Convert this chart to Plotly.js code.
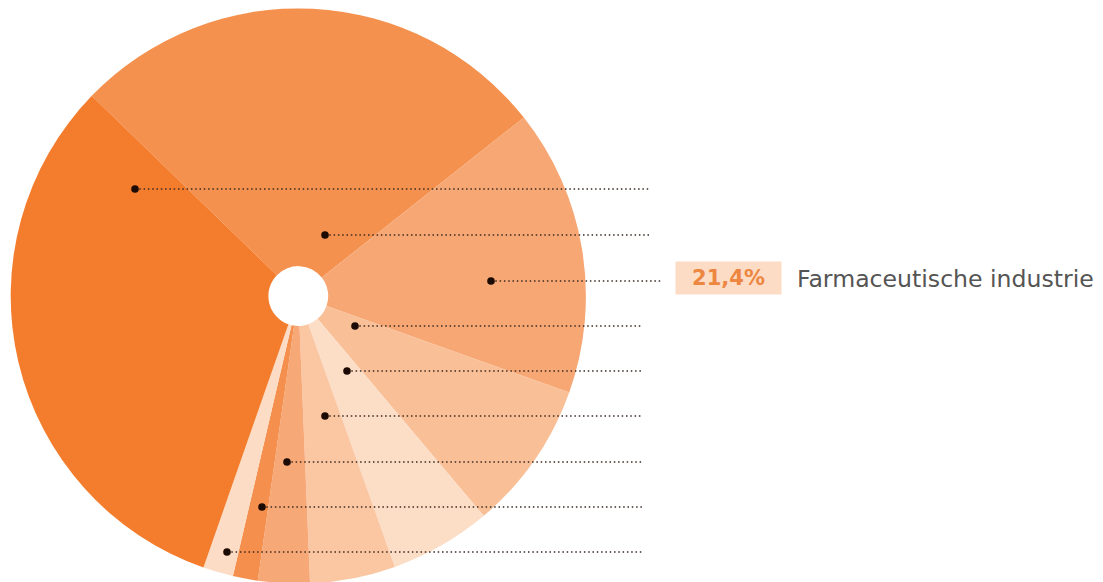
<!DOCTYPE html>
<html>
<head>
<meta charset="utf-8">
<script src="https://cdn.plot.ly/plotly-3.0.1.min.js"></script>
<style>
  html, body { margin: 0; padding: 0; background: #ffffff; overflow: hidden; }
  #chart { width: 1103px; height: 592px; }
</style>
</head>
<body>
<div id="chart"></div>
<script>
// ---- data (shares, clockwise from the top slice) ----
var sectors = ["Sector A", "Farmaceutische industrie", "Sector C", "Sector D", "Sector E",
               "Sector F", "Sector G", "Sector H", "Sector I"];
var shares = [27.1, 16.1, 8.4, 5.7, 4.8, 2.9, 1.4, 1.7, 31.9];
var sliceColors = ["#F4914E", "#F6A774", "#F9BF97", "#FCDDC6", "#FAC7A2",
                   "#F7A877", "#F48F4D", "#FCDCC4", "#F47D2D"];
var highlightValue = "21,4%";
var highlightLabel = "Farmaceutische industrie";

// ---- layout of the leader rows (order: top to bottom) ----
var W = 1103, H = 592;
var rowY    = [189, 235, 281, 326, 371, 416, 462, 507, 552];
var dotX    = [135, 325, 491, 355, 347, 325, 287, 262, 227];
var lineEnd = [650, 650, 663, 643, 643, 643, 643, 643, 643];

function px(x) { return x / W; }
function py(y) { return 1 - y / H; }

var shapes = [];
for (var i = 0; i < rowY.length; i++) {
  shapes.push({
    type: "line", xref: "paper", yref: "paper", layer: "above",
    x0: px(dotX[i]), x1: px(lineEnd[i]), y0: py(rowY[i]), y1: py(rowY[i]),
    line: { color: "#3b2a22", width: 1.5, dash: "1.5px,2.8px" }
  });
  shapes.push({
    type: "circle", xref: "paper", yref: "paper", layer: "above",
    x0: px(dotX[i] - 3.8), x1: px(dotX[i] + 3.8),
    y0: py(rowY[i] + 3.8), y1: py(rowY[i] - 3.8),
    fillcolor: "#1c0a04", line: { width: 0 }
  });
}

var trace = {
  type: "pie",
  labels: sectors,
  values: shares,
  sort: false,
  direction: "clockwise",
  rotation: 314.1,
  hole: 0.104,
  textinfo: "none",
  hoverinfo: "label+percent",
  marker: { colors: sliceColors, line: { width: 0 } },
  domain: { x: [px(10.7), px(585.9)], y: [1 - 583.6 / H, 1 - 8.4 / H] },
  showlegend: false
};

var annotations = [
  {
    xref: "paper", yref: "paper", x: px(675), y: py(278), xanchor: "left", yanchor: "middle",
    text: "<b>" + highlightValue + "</b>", showarrow: false,
    width: 105, height: 32, borderpad: 0, bgcolor: "#FDDCC5", align: "center",
    font: { family: "'DejaVu Sans', sans-serif", size: 21, color: "#EC8641" }
  },
  {
    xref: "paper", yref: "paper", x: px(795), y: py(279), xanchor: "left", yanchor: "middle",
    text: highlightLabel, showarrow: false,
    font: { family: "'DejaVu Sans', sans-serif", size: 23.6, color: "#555555" }
  }
];

var layout = {
  width: W, height: H,
  margin: { l: 0, r: 0, t: 0, b: 0 },
  paper_bgcolor: "#ffffff",
  plot_bgcolor: "#ffffff",
  showlegend: false,
  shapes: shapes,
  annotations: annotations
};

Plotly.newPlot("chart", [trace], layout, { displayModeBar: false, staticPlot: true });
</script>
</body>
</html>
